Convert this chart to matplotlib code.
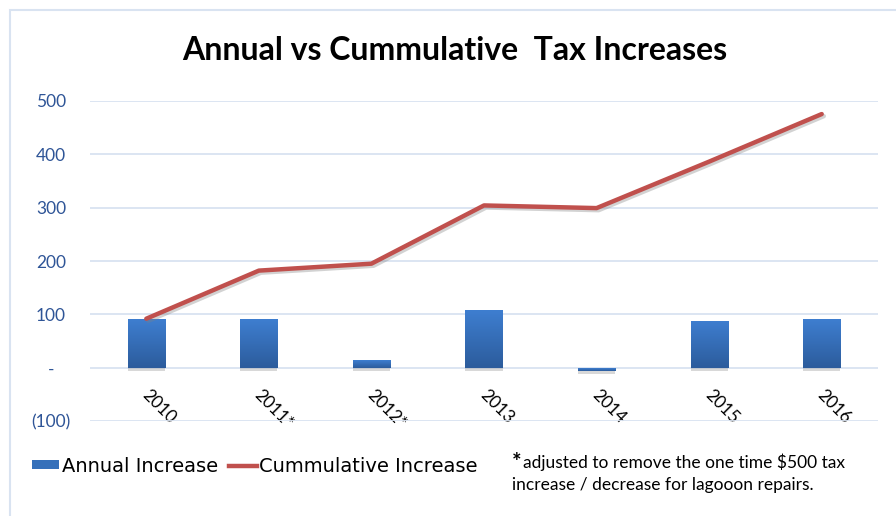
import numpy as np
import matplotlib.pyplot as plt
from matplotlib.patches import Rectangle, Patch
from matplotlib.lines import Line2D
from matplotlib.colors import LinearSegmentedColormap
from matplotlib.transforms import ScaledTranslation
import matplotlib.patheffects as pe

years = ["2010", "2011*", "2012*", "2013", "2014", "2015", "2016"]
annual = [91, 91, 14, 108, -5, 88, 91]
cumulative = [92, 182, 195, 304, 299, 386, 475]
y_ticks = [-100, 0, 100, 200, 300, 400, 500]
y_labels = ["(100)", "-", "100", "200", "300", "400", "500"]

plt.rcParams['font.family'] = ['Lato', 'DejaVu Sans']

fig = plt.figure(figsize=(8.96, 5.16), dpi=100)
ax = fig.add_axes([90 / 896, 1 - 421.3 / 516, 788 / 896, 320.6 / 516])

grid_col = '#D9E3F1'
ax.set_yticks(y_ticks)
ax.set_yticklabels(y_labels, ha='center')
ax.yaxis.grid(True, color=grid_col, linewidth=1.3)
ax.set_axisbelow(True)
ax.tick_params(axis='y', length=0, pad=28, labelsize=12.5, labelcolor='#2F5597')

# x labels sit at the zero line
ax.spines['bottom'].set_position(('data', 0))
for s in ['top', 'right', 'left']:
    ax.spines[s].set_visible(False)
ax.spines['bottom'].set_color('none')
ax.set_xticks(range(len(years)))
ax.set_xticklabels(years, rotation=-45, ha='left', va='top', rotation_mode='anchor')
ax.tick_params(axis='x', length=0, pad=12, labelsize=12.5)
shift = ScaledTranslation(4 / 100, -2 / 100, fig.dpi_scale_trans)
for lbl in ax.get_xticklabels():
    lbl.set_transform(lbl.get_transform() + shift)

x = np.arange(len(years))
bars = ax.bar(x, annual, width=0.33, color='#3570BA', zorder=2,
              path_effects=[pe.SimplePatchShadow(offset=(0, -2.5), shadow_rgbFace='gray', alpha=0.3),
                            pe.Normal()])

# vertical gradient on each bar
grad = np.linspace(0, 1, 100).reshape(-1, 1)
cmap = LinearSegmentedColormap.from_list('bar', ['#2C5C9C', '#3E7ED0'])
for b in bars:
    x0, y0 = b.get_x(), b.get_y()
    w, h = b.get_width(), b.get_height()
    lo, hi = min(y0, y0 + h), max(y0, y0 + h)
    im = ax.imshow(grad, extent=[x0, x0 + w, lo, hi], origin='lower', cmap=cmap,
                   aspect='auto', zorder=2.5)
    im.set_clip_path(b)

ax.plot(x, cumulative, color='#C0504D', linewidth=3.2, solid_capstyle='round', zorder=3,
        path_effects=[pe.SimpleLineShadow(offset=(1.5, -1.5), shadow_color='gray', alpha=0.35),
                      pe.Normal()])
ax.set_xlim(-0.5, len(years) - 0.5)
ax.set_ylim(-100, 500)

fig.text(455 / 896, 1 - 50 / 516, "Annual vs Cummulative  Tax Increases",
         ha='center', va='center', fontsize=23, fontweight='bold')

handles = [Patch(facecolor='#3570BA', edgecolor='none'),
           Line2D([0], [0], color='#C0504D', linewidth=3.2)]
fig.legend(handles, ["Annual Increase", "Cummulative Increase"], loc='center left',
           bbox_to_anchor=(32 / 896, 1 - 466 / 516), ncol=2, frameon=False,
           borderpad=0, borderaxespad=0,
           prop={'family': 'DejaVu Sans', 'size': 14}, handlelength=1.4,
           handleheight=0.35, handletextpad=0.12, columnspacing=0.6)

fig.text(512 / 896, 1 - 462 / 516, "*", fontsize=16, fontweight='bold', va='center')
fig.text(523 / 896, 1 - 462 / 516, "adjusted to remove the one time $500 tax",
         fontsize=12.5, va='center')
fig.text(512 / 896, 1 - 485 / 516, "increase / decrease for lagooon repairs.",
         fontsize=12.5, va='center')

fig.patches.append(Rectangle((10 / 896, -0.05), 1.2, 1.05 - 10 / 516,
                             transform=fig.transFigure, fill=False,
                             edgecolor=grid_col, linewidth=1.5))

fig.savefig('out.png', dpi=100)
